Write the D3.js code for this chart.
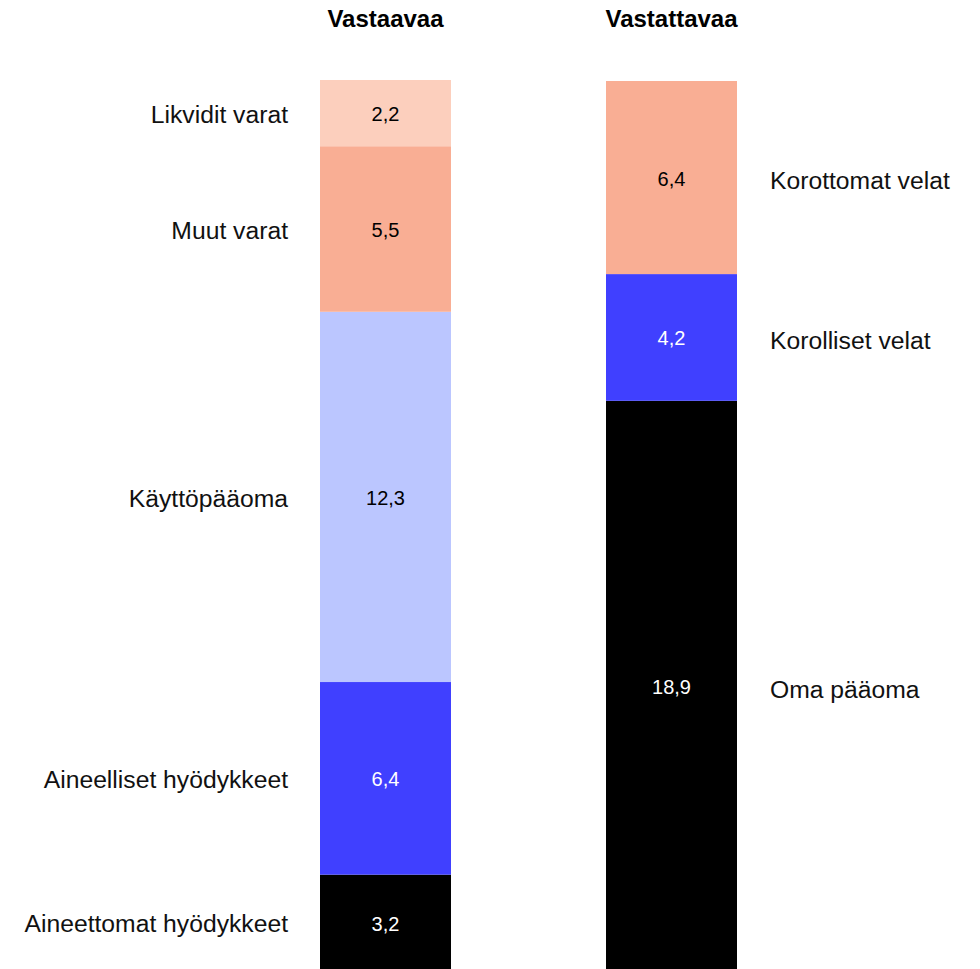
<!DOCTYPE html>
<html><head><meta charset="utf-8">
<script src="https://cdn.jsdelivr.net/npm/d3@7"></script>
<style>body{margin:0;background:#fff}svg{display:block}</style>
</head><body><div id="chart"></div>
<script>
const assetLabels = ["Aineettomat hyödykkeet","Aineelliset hyödykkeet","Käyttöpääoma","Muut varat","Likvidit varat"];
const assetValues = [3.2, 6.4, 12.3, 5.5, 2.2];
const assetColors = ["#000000","#4040ff","#bbc6ff","#f9ae94","#fccfbd"];
const liabLabels = ["Oma pääoma","Korolliset velat","Korottomat velat"];
const liabValues = [18.9, 4.2, 6.4];
const liabColors = ["#000000","#4040ff","#f9ae94"];
const titles = ["Vastaavaa","Vastattavaa"];

const W = 980, H = 969;
const svg = d3.select("#chart").append("svg").attr("width", W).attr("height", H);
const font = "'Liberation Sans', Arial, sans-serif";
const fmt = v => String(v).replace(".", ",");
const textColor = c => (c === "#000000" || c === "#4040ff") ? "#fff" : "#000";

const x = d3.scaleBand().domain(titles).range([320, 737]).paddingInner(0.542).paddingOuter(0);

function drawBar(title, labels, values, colors, top, side) {
  const total = d3.sum(values);
  const y = d3.scaleLinear().domain([0, total]).range([971, top]);
  const stack = d3.stack().keys(labels)([Object.fromEntries(labels.map((l,i)=>[l,values[i]]))]);
  const g = svg.append("g");
  const x0 = x(title), bw = x.bandwidth();
  stack.forEach((s, i) => {
    const d = s[0];
    g.append("rect").attr("x", x0).attr("width", bw)
      .attr("y", y(d[1])).attr("height", y(d[0]) - y(d[1]))
      .attr("fill", colors[i]);
    const cy = (y(d[0]) + y(d[1])) / 2;
    g.append("text").attr("x", x0 + bw/2).attr("y", cy + 1).attr("dy", "0.35em")
      .attr("text-anchor", "middle").attr("font-family", font).attr("font-size", 20)
      .attr("fill", textColor(colors[i])).text(fmt(values[i]));
    if (side === "left") {
      g.append("text").attr("x", x0 - 32).attr("y", cy + 1).attr("dy", "0.35em")
        .attr("text-anchor", "end").attr("font-family", font).attr("font-size", 24.7)
        .attr("fill", "#111").text(labels[i]);
    } else {
      g.append("text").attr("x", x0 + bw + 33).attr("y", cy + 3).attr("dy", "0.35em")
        .attr("text-anchor", "start").attr("font-family", font).attr("font-size", 24.7)
        .attr("fill", "#111").text(labels[i]);
    }
  });
  g.append("text").attr("x", x0 + bw/2).attr("y", 27).attr("text-anchor", "middle")
    .attr("font-family", font).attr("font-weight", "bold").attr("font-size", 24)
    .attr("fill", "#000").text(title);
}
drawBar(titles[0], assetLabels, assetValues, assetColors, 80, "left");
drawBar(titles[1], liabLabels, liabValues, liabColors, 81, "right");
</script></body></html>
